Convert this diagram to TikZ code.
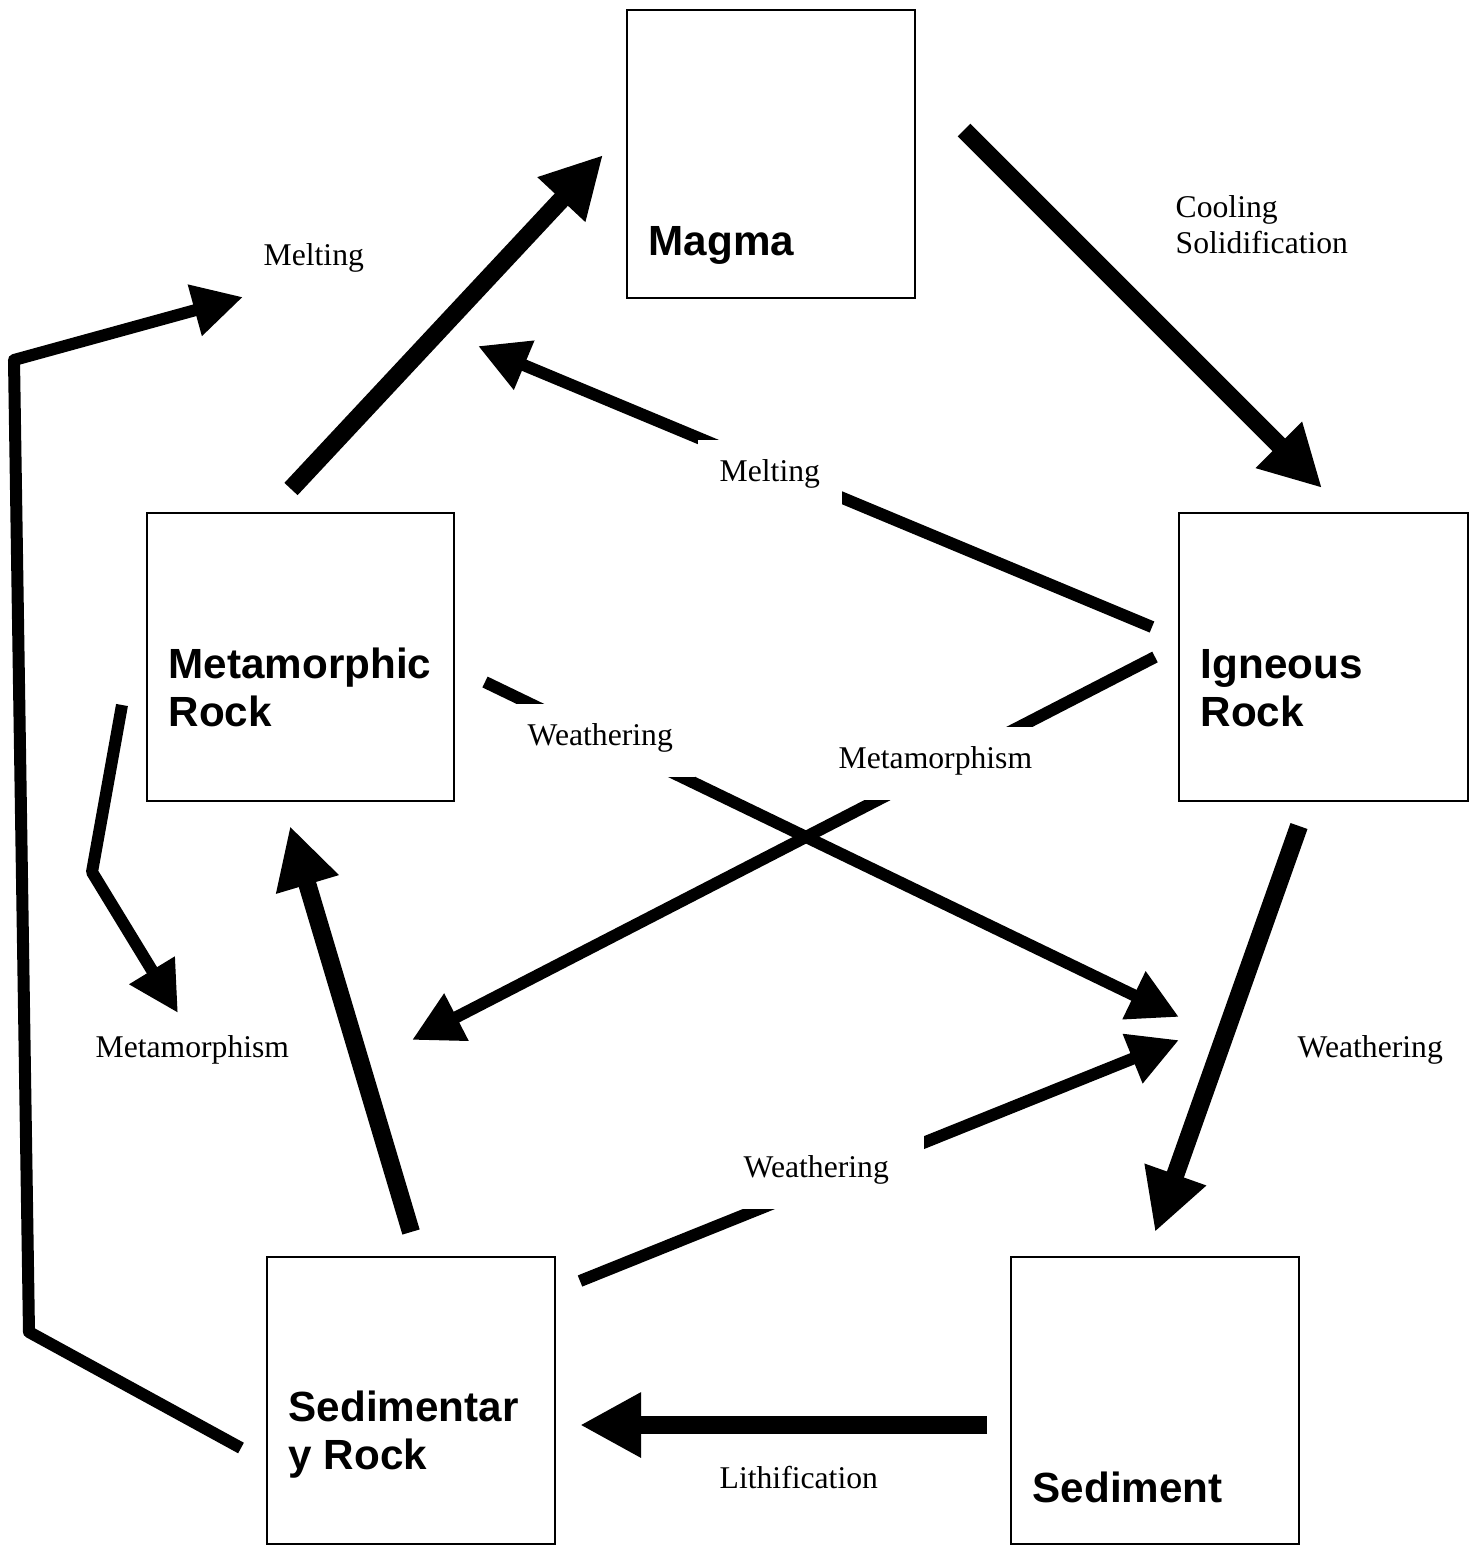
\documentclass[tikz,border=0pt]{standalone}
\usepackage{fontspec}
\setmainfont{Liberation Serif}
\setsansfont{Liberation Sans}
\usetikzlibrary{arrows.meta}
\tikzset{
  rockbox/.style={draw, line width=0.6pt, minimum width=2.88cm, minimum height=2.88cm, inner sep=0pt},
  rocktxt/.style={font=\sffamily\bfseries\fontsize{12}{13.6}\selectfont, align=left, inner sep=0pt},
  proc/.style={font=\fontsize{9}{10.2}\selectfont, align=left, inner sep=0pt},
  gaplbl/.style={proc, fill=white, inner xsep=0.22cm, text height=0.41cm, text depth=0.32cm},
  bigarr/.style={-{Triangle[length=0.61cm, width=0.61cm]}, line width=0.18cm},
  thinarr/.style={-{Triangle[length=0.5cm, width=0.5cm]}, line width=0.12cm, line join=round},
}
\begin{document}
\begin{tikzpicture}[x=0.01cm, y=-0.01cm]
\useasboundingbox (0,0) rectangle (1478,1545);
% Rock boxes
\node[rockbox] (magma) at (771,154) {};
\node[rockbox, minimum width=3.07cm] (meta) at (300.5,657) {};
\node[rockbox, minimum width=2.89cm] (igneous) at (1323.5,657) {};
\node[rockbox, minimum height=2.87cm] (sedrock) at (411,1400.5) {};
\node[rockbox, minimum height=2.87cm] (sediment) at (1155,1400.5) {};
% (base of a two-line node = its last line)
\node[rocktxt, anchor=base west] (magmatxt) at (648,255) {Magma};
\node[rocktxt, anchor=base west] (metatxt) at (168,726) {Metamorphic\\Rock};
\node[rocktxt, anchor=base west] (ignetxt) at (1200,726) {Igneous\\Rock};
\node[rocktxt, anchor=base west] (sedrocktxt) at (288,1469) {Sedimentar\\y Rock};
\node[rocktxt, anchor=base west] (sedimtxt) at (1032,1502) {Sediment};
% Arrow end points
\coordinate (mm0) at (291,489);   \coordinate (mm1) at (603,155);
\coordinate (mi0) at (964,130);   \coordinate (mi1) at (1322,488);
\coordinate (is0) at (1299,826);  \coordinate (is1) at (1155,1232);
\coordinate (ss0) at (987,1425);  \coordinate (ss1) at (580,1425);
\coordinate (sm0) at (411,1232);  \coordinate (sm1) at (290,826);
\coordinate (im0) at (1152,627);  \coordinate (im1) at (478,346);
\coordinate (ms0) at (485,682);   \coordinate (ms1) at (1179,1017);
\coordinate (ie0) at (1155,657);  \coordinate (ie1) at (412,1040);
\coordinate (sw0) at (580,1281);  \coordinate (sw1) at (1179,1040);
\coordinate (lp0) at (241,1448);  \coordinate (lp1) at (29,1332);
\coordinate (lp2) at (14,360);    \coordinate (lp3) at (243,297);
\coordinate (mb0) at (122,705);   \coordinate (mb1) at (92,872);
\coordinate (mb2) at (178,1013);
% Outer cycle (thick)
\draw[bigarr] (mm0) -- (mm1);
\draw[bigarr] (mi0) -- (mi1);
\draw[bigarr] (is0) -- (is1);
\draw[bigarr] (ss0) -- (ss1);
\draw[bigarr] (sm0) -- (sm1);
% Inner and side paths (thin)
\draw[thinarr] (im0) -- (im1);
\draw[thinarr] (ms0) -- (ms1);
\draw[thinarr] (ie0) -- (ie1);
\draw[thinarr] (sw0) -- (sw1);
\draw[thinarr] (lp0) -- (lp1) -- (lp2) -- (lp3);
\draw[thinarr] (mb0) -- (mb1) -- (mb2);
% Process labels
\node[proc, anchor=base west] (meltA) at (263,265) {Melting};
\node[proc, anchor=base west] (cool) at (1175,253) {Cooling\\Solidification};
\node[gaplbl, anchor=base west] (meltB) at (697,481) {Melting};
\node[gaplbl, anchor=base west] (weathA) at (505,745) {Weathering};
\node[gaplbl, anchor=base west] (metamB) at (816,768) {Metamorphism};
\node[proc, anchor=base west] (metamA) at (95,1057) {Metamorphism};
\node[proc, anchor=base west] (weathB) at (1297,1057) {Weathering};
\node[gaplbl, anchor=base west, inner xsep=0.35cm] (weathC) at (708,1177) {Weathering};
\node[proc, anchor=base west] (lith) at (719,1488) {Lithification};
\end{tikzpicture}
\end{document}
